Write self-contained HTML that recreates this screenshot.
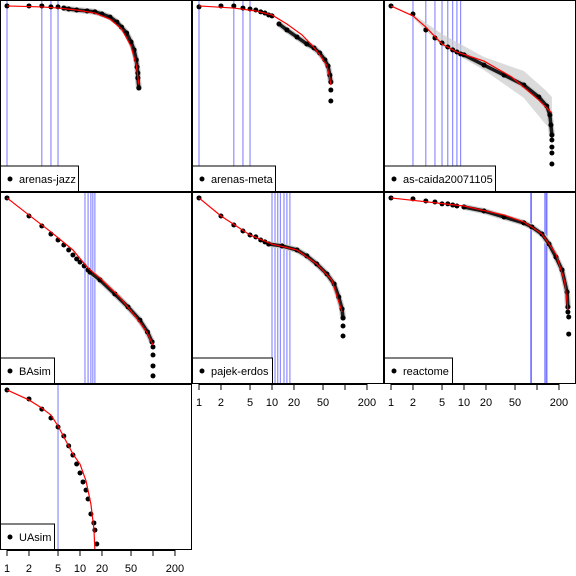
<!DOCTYPE html>
<html><head><meta charset="utf-8"><style>
html,body{margin:0;padding:0;background:#fff}
svg{display:block;font-family:"Liberation Sans",sans-serif}
</style></head><body>
<svg id="chart" width="576" height="576" viewBox="0 0 576 576" xmlns="http://www.w3.org/2000/svg"></svg>
<script>
// ---- data (rank, value) per panel ----
const jazzX=[1,2,3,4,5,6,7,9,12.5,16,20,25.8,32,37,43.5,50,55,59,60.5,62,62,64];
const jazzY=[96.9,96.9,96.9,96.4,96.4,95.8,95.3,94.8,94.3,93.8,92.7,91.1,88.5,85.9,82.8,78.1,74,68.8,65.1,62,59.4,54.2];
const jazzFitX=[1,3,5,9,16,25.8,37,50,59,64];
const jazzFitY=[96.9,96.4,95.8,94.8,93.2,90,85,76,66,56];
const jazzV=[1,3,4,5];

const metaX=[1,2,3,4,5,6,7,8,9,10,12.5,16,22,30,37.7,45,53,58.5,62,64,64,64];
const metaY=[96.4,96.9,96.9,95.8,95.3,94.8,93.8,93.2,92.2,91.7,87.5,84.4,80.7,77.1,75,72.4,68.8,65.6,60.9,57.3,53.1,47.4];
const metaFitX=[1,3,6,10,16,25.8,35,45,56,62,64];
const metaFitY=[96.9,95.8,94.3,92.2,87.5,81.8,76.6,71.4,66.1,59.4,55.7];
const metaV=[1,3,4,5];

const caidaX=[1,2,3,4,5,6,7,8,9,10,18.8,35.4,66,106,136,150,155,160,160,160,160,160];
const caidaY=[96.9,92.7,84.4,80.2,77.6,75.5,74,72.9,71.9,71.4,66.1,60.9,55.7,49.5,44.8,40.1,34.9,29.7,27.1,23.4,20.3,14.6];
const caidaFitX=[1,2,3,5,8,18.8,45,106,160];
const caidaFitY=[96.9,91.7,85.9,77.1,72.9,68.2,59.9,47.9,41.1];
const caidaBandX=[2,5,18.8,66,130,160];
const caidaBandHi=[92.7,82.3,70.3,63,53.1,49.5];
const caidaBandLo=[90.6,76,63.5,49,35.4,32.3];
const caidaV=[2,3,4,5,6,7,8,9];

const baX=[1,2,3,4,5,6,7,8,9,10,11.4,12.9,13.7,18.8,30,45.5,66,84,97,100,100,100,100];
const baY=[96.9,87.5,82.3,78.1,75,72.4,69.8,67.2,65.1,63.5,61.5,59.4,58.3,54.2,46.9,40.1,33.3,27.1,21.9,19.3,15.1,9.4,4.2];
const baFitX=[1,2,4,8,12.9,18.8,35,58,82,100];
const baFitY=[96.9,88,79.2,69.8,60.4,55.2,45.3,34.9,27.1,20.3];
const baV=[11.7,12.9,14.1,15,16];

const erdosX=[1,2,3,4,5,6,7,8,9,13.7,22,30,41,56.5,71,82,91,94,94,94];
const erdosY=[96.9,87.5,82.8,79.7,77.6,76.6,75,74,72.9,71.9,69.8,66.7,62.5,57.3,52.1,45.3,39.1,34.4,30.2,25];
const erdosFitX=[1,2,5,10,22,41,66,91];
const erdosFitY=[96.9,87.5,77.6,72.9,69.8,62.5,54.2,37.5];
const erdosV=[10,11,12,13,14.6,16,17.6];

const reactX=[1,2,3,4,5,6,7,8,10,18.8,35.4,66,85,117,146,182,220,258,265,265,272,272];
const reactY=[96.9,96.4,95.3,94.8,93.8,93.8,93.2,92.7,92.2,90.1,87,83.9,81.8,78.1,72.9,66.1,59.4,47.9,40.1,37.5,34.9,26];
const reactFitX=[1,10,35.4,66,85,117,182,240,265];
const reactFitY=[96.9,92.7,88,84.4,81.8,78.1,67.7,53.1,38.5];
const reactV=[82,84,128,133,137];

const uaX=[1,2,3,4,5,6,7,8,9,10,11,12.1,12.9,14.1,15.5,16,17];
const uaY=[96.4,91,84.9,79.5,74.1,68.7,62.7,57.2,51.8,46.4,41,36.1,30.7,21.7,16.3,12,3.6];
const uaFitX=[1,2,3,4,5,8,10,12.1,14.1,15.5,16];
const uaFitY=[96.4,90.4,85.5,81.3,74.7,57.8,51.8,41.6,27.7,12.7,0];
const uaV=[5];

const tickVals=[1,2,5,10,20,50,100,200];
const tickLabels=["1","2","5","10","20","50","","200"];

const panels=[
 {name:"arenas-jazz",c:0,r:0,h:192,x:jazzX,y:jazzY,fx:jazzFitX,fy:jazzFitY,v:jazzV,d:[5,21],lw:78},
 {name:"arenas-meta",c:1,r:0,h:192,x:metaX,y:metaY,fx:metaFitX,fy:metaFitY,v:metaV,d:[10,19],lw:83},
 {name:"as-caida20071105",c:2,r:0,h:192,x:caidaX,y:caidaY,fx:caidaFitX,fy:caidaFitY,v:caidaV,d:[9,17],lw:111,band:true},
 {name:"BAsim",c:0,r:1,h:192,x:baX,y:baY,fx:baFitX,fy:baFitY,v:baV,d:[11,18],lw:54},
 {name:"pajek-erdos",c:1,r:1,h:192,x:erdosX,y:erdosY,fx:erdosFitX,fy:erdosFitY,v:erdosV,d:[8,17],lw:80},
 {name:"reactome",c:2,r:1,h:192,x:reactX,y:reactY,fx:reactFitX,fy:reactFitY,v:reactV,d:[8,18],lw:68},
 {name:"UAsim",c:0,r:2,h:166,x:uaX,y:uaY,fx:uaFitX,fy:uaFitY,v:uaV,d:null,lw:54}
];

const NS="http://www.w3.org/2000/svg";
const svg=document.getElementById('chart');
function mk(tag,attrs,parent){const e=document.createElementNS(NS,tag);for(const k in attrs)e.setAttribute(k,attrs[k]);(parent||svg).appendChild(e);return e;}
function xs(p,r){return 192*p.c+7+Math.log10(r)*73;}
function ys(p,v){return 192*p.r+(1-v/100)*p.h;}

panels.forEach(p=>{
  const g=mk('g',{});
  
  
  const left=192*p.c, top=192*p.r;
  const clipId='clip'+p.c+p.r;
  const cp=mk('clipPath',{id:clipId},g);
  mk('rect',{x:left,y:top,width:192,height:p.h},cp);
  const inner=mk('g',{'clip-path':'url(#'+clipId+')'},g);
  p.v.forEach(r=>{
    const l=mk('line',{x1:xs(p,r),x2:xs(p,r),y1:top,y2:top+p.h,stroke:'#7777ff','stroke-width':1},inner);
    
    
  });
  if(p.band){
    let d='';
    caidaBandX.forEach((r,i)=>{d+=(i?'L':'M')+xs(p,r)+','+ys(p,caidaBandHi[i]);});
    for(let i=caidaBandX.length-1;i>=0;i--)d+='L'+xs(p,caidaBandX[i])+','+ys(p,caidaBandLo[i]);
    const b=mk('path',{d:d+'Z',fill:'#cccccc','fill-opacity':0.7},inner);
    
    
  }
  if(p.d){
    let d='';
    for(let i=p.d[0];i<=p.d[1];i++)d+=(i>p.d[0]?'L':'M')+xs(p,p.x[i])+','+ys(p,p.y[i]);
    const h=mk('path',{d:d,fill:'none',stroke:'#cccccc','stroke-width':6,'stroke-linecap':'round','stroke-linejoin':'round'},inner);
    
    
    const c=mk('path',{d:d,fill:'none',stroke:'#1a1a1a','stroke-width':3.5,'stroke-linecap':'round','stroke-linejoin':'round'},inner);
    
    
  }
  p.x.forEach((r,i)=>{
    const c=mk('circle',{cx:xs(p,r),cy:ys(p,p.y[i]),r:2.5,fill:'#000'},inner);
    
    
  });
  let fd='';
  p.fx.forEach((r,i)=>{fd+=(i?'L':'M')+xs(p,r)+','+ys(p,p.fy[i]);});
  const f=mk('path',{d:fd,fill:'none',stroke:'#ff0000','stroke-width':1.2},inner);
  
  
  const lg=mk('g',{},g);
  
  
  mk('rect',{x:left+0.5,y:top+p.h-26,width:p.lw,height:25.5,fill:'#fff',stroke:'#000','stroke-width':1},lg);
  mk('circle',{cx:left+10,cy:top+p.h-13,r:2.5,fill:'#000'},lg);
  const t=mk('text',{x:left+19,y:top+p.h-9,'font-size':11,fill:'#000'},lg);
  t.textContent=p.name;
  const fr=mk('rect',{x:left+0.5,y:top+0.5,width:191,height:p.h-1,fill:'none',stroke:'#000','stroke-width':1},g);
  
  
});

[[0,550],[1,384],[2,384]].forEach(([c,y0])=>{
  const g=mk('g',{});
  
  
  const p={c:c};
  mk('line',{x1:xs(p,1),x2:xs(p,200),y1:y0+0.5,y2:y0+0.5,stroke:'#000'},g);
  tickVals.forEach((v,i)=>{
    const x=xs(p,v);
    mk('line',{x1:x,x2:x,y1:y0,y2:y0+6,stroke:'#000'},g);
    if(tickLabels[i]){
      const t=mk('text',{x:x,y:y0+22,'font-size':11,'text-anchor':'middle',fill:'#000'},g);
      t.textContent=tickLabels[i];
    }
  });
});
</script>
</body></html>
